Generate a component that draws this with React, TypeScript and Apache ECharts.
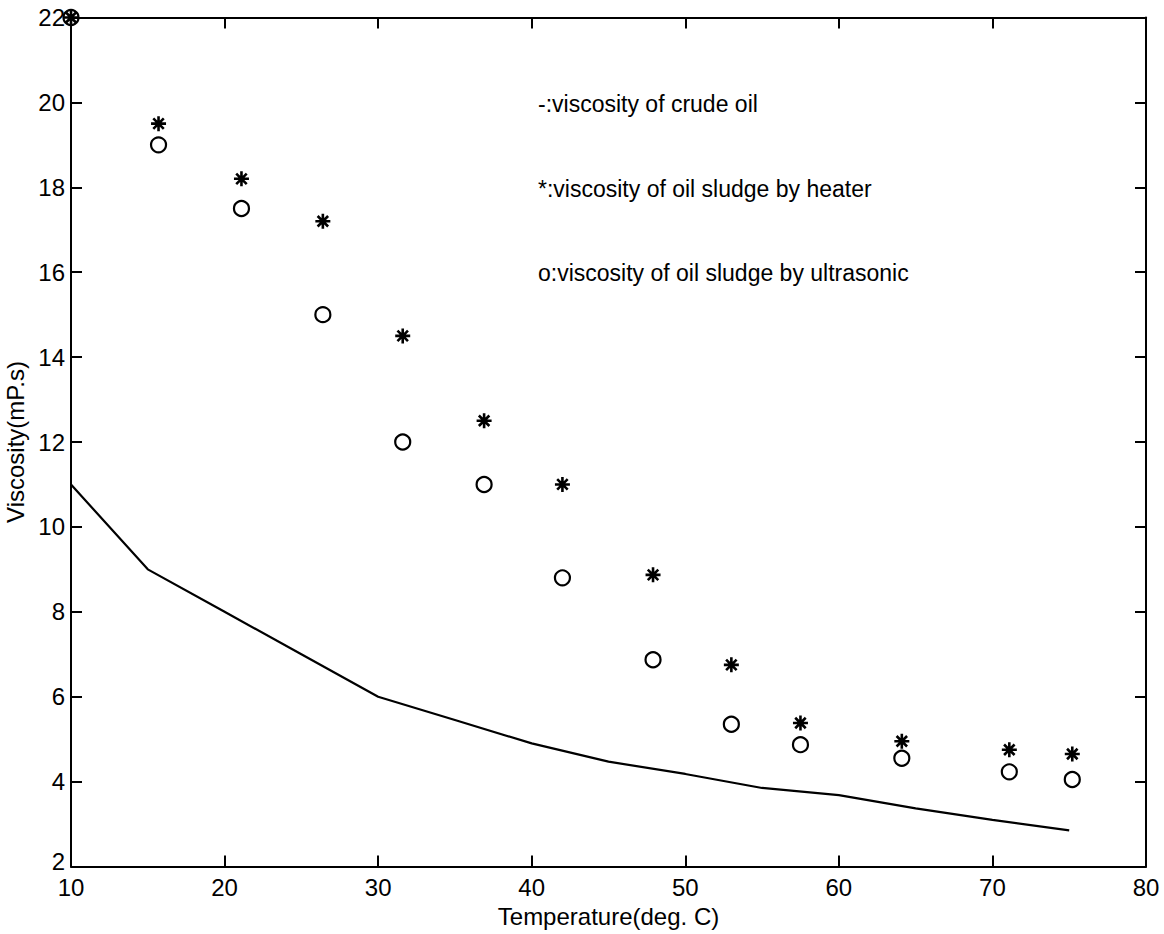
import React, { useEffect, useRef } from "react";
import * as echarts from "echarts";

// crude oil viscosity curve (solid line)
const crudeTemp = [10, 15, 20, 25, 30, 35, 40, 45, 50, 55, 60, 65, 70, 75];
const crudeVisc = [11.0, 9.0, 8.0, 7.0, 6.0, 5.45, 4.9, 4.47, 4.18, 3.85, 3.68, 3.37, 3.1, 2.85];

// oil sludge measurements
const sludgeTemp = [10, 15.7, 21.1, 26.4, 31.6, 36.9, 42.0, 47.9, 53.0, 57.5, 64.1, 71.1, 75.2];
const heaterVisc = [22, 19.5, 18.2, 17.2, 14.5, 12.5, 11.0, 8.87, 6.75, 5.38, 4.95, 4.75, 4.65];
const ultraVisc = [22, 19.0, 17.5, 15.0, 12.0, 11.0, 8.8, 6.87, 5.35, 4.87, 4.55, 4.23, 4.05];

const notes = [
  "-:viscosity of crude oil",
  "*:viscosity of oil sludge by heater",
  "o:viscosity of oil sludge by ultrasonic",
];

const xName = "Temperature(deg. C)";
const yName = "Viscosity(mP.s)";

const FONT = '"Liberation Sans", Arial, sans-serif';

export default function App() {
  const ref = useRef<HTMLDivElement>(null);
  useEffect(() => {
    if (!ref.current) return;
    const chart = echarts.init(ref.current, undefined, { renderer: "svg" });
    const left = 71, top = 17.5, right = 18, bottom = 67.5;
    const axisLine = { show: true, lineStyle: { color: "#000", width: 2 } };
    const tick = { show: true, inside: true, length: 11, lineStyle: { color: "#000", width: 2 } };
    const starPath = "path://M10,0 L10,20 M0,10 L20,10 M3,3 L17,17 M3,17 L17,3";
    const noteYs = [104, 189, 273];
    chart.setOption({
      animation: false,
      backgroundColor: "#fff",
      textStyle: { fontFamily: FONT },
      grid: { left, top, right, bottom, containLabel: false, outerBoundsMode: "none" },
      xAxis: [
        {
          type: "value", min: 10, max: 80, interval: 10, position: "bottom",
          axisLine, axisTick: tick, splitLine: { show: false },
          axisLabel: { color: "#000", fontSize: 24, fontFamily: FONT, margin: 11, lineHeight: 20 },
          name: xName, nameLocation: "middle", nameGap: 30,
          nameTextStyle: { color: "#000", fontSize: 24, fontFamily: FONT, lineHeight: 22 },
        },
        {
          type: "value", min: 10, max: 80, interval: 10, position: "top",
          axisLine, axisTick: tick, splitLine: { show: false }, axisLabel: { show: false },
        },
      ],
      yAxis: [
        {
          type: "value", min: 2, max: 22, interval: 2, position: "left",
          axisLine, axisTick: tick, splitLine: { show: false },
          axisLabel: {
            color: "#000", fontSize: 24, fontFamily: FONT, margin: 6, lineHeight: 18,
            formatter: (v: number) => (v === 2 ? `{lo|${v}}` : `${v}`),
            rich: { lo: { color: "#000", fontSize: 24, fontFamily: FONT, lineHeight: 18, padding: [0, 0, 10, 0] } },
          },
          name: yName, nameLocation: "middle", nameGap: 38,
          nameTextStyle: { color: "#000", fontSize: 24, fontFamily: FONT },
        },
        {
          type: "value", min: 2, max: 22, interval: 2, position: "right",
          axisLine, axisTick: tick, splitLine: { show: false }, axisLabel: { show: false },
        },
      ],
      series: [
        {
          type: "line",
          data: crudeTemp.map((t, i) => [t, crudeVisc[i]]),
          showSymbol: false, symbol: "none",
          lineStyle: { color: "#000", width: 2.2 },
          xAxisIndex: 0, yAxisIndex: 0,
        },
        {
          type: "scatter",
          data: sludgeTemp.map((t, i) => [t, heaterVisc[i]]),
          symbol: starPath, symbolSize: 15, clip: false,
          itemStyle: { color: "transparent", borderColor: "#000", borderWidth: 2.6, opacity: 1 },
          xAxisIndex: 0, yAxisIndex: 0,
        },
        {
          type: "scatter",
          data: sludgeTemp.map((t, i) => [t, ultraVisc[i]]),
          symbol: "circle", symbolSize: 15, clip: false,
          itemStyle: { color: "transparent", borderColor: "#000", borderWidth: 2.2, opacity: 1 },
          xAxisIndex: 0, yAxisIndex: 0,
        },
      ],
      graphic: notes.map((n, i) => ({
        type: "text",
        x: 538,
        y: noteYs[i],
        style: { text: n, fill: "#000", font: `23px ${FONT}`, verticalAlign: "middle", align: "left" },
      })),
    });
    return () => chart.dispose();
  }, []);
  return <div ref={ref} style={{ position: "absolute", left: 0, top: 0, width: 1164, height: 934 }} />;
}
